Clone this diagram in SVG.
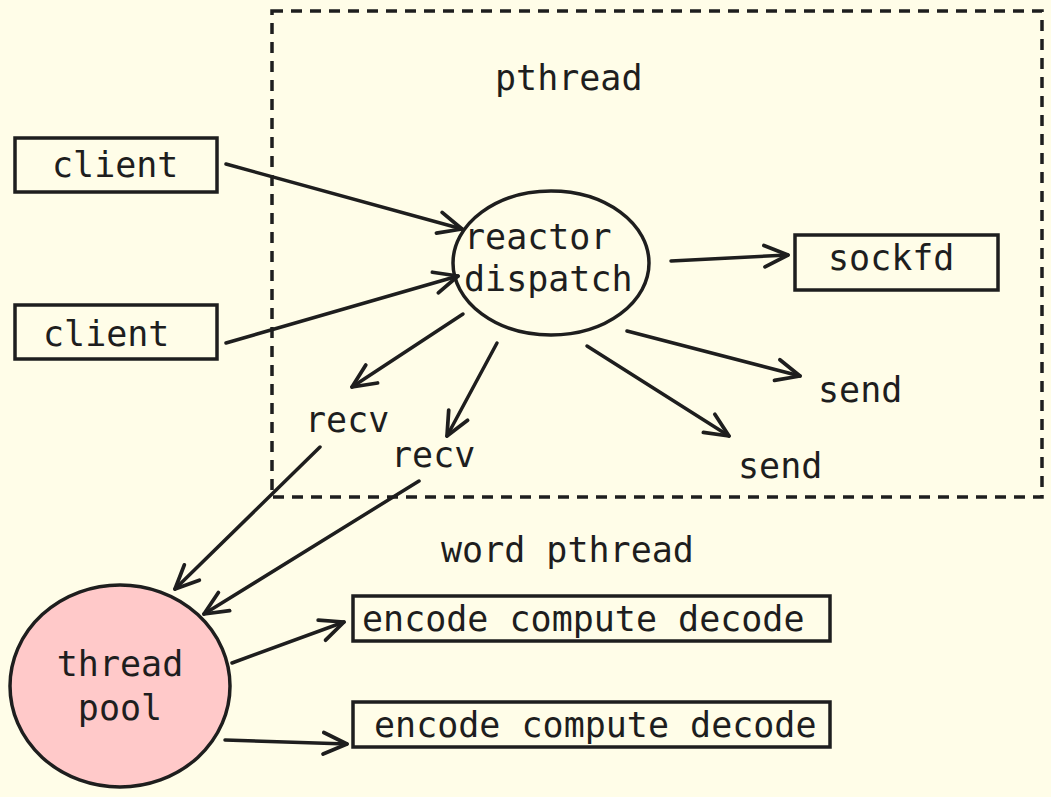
<svg xmlns="http://www.w3.org/2000/svg" width="1051" height="797" viewBox="0 0 1051 797">
<style>
.t{font-family:"DejaVu Sans Mono","Liberation Mono",monospace;font-size:35px;fill:#1e1e1e}
.s{fill:none;stroke:#1e1e1e;stroke-width:3.5}
.c{fill:none;stroke:#1e1e1e;stroke-width:3.5;stroke-linecap:round;marker-end:url(#a)}
</style>
<defs>
<marker id="a" markerUnits="userSpaceOnUse" markerWidth="30" markerHeight="30" viewBox="-24 -12 28 24" refX="0" refY="0" orient="auto">
<path d="M-22,-10 L0,0 L-22,10" fill="none" stroke="#1e1e1e" stroke-width="3.5" stroke-linecap="round" stroke-linejoin="round"/>
</marker>
</defs>
<rect width="1051" height="797" fill="#fffde8"/>
<g id="pthread-frame">
<rect x="272" y="11" width="770" height="486" class="s" stroke-dasharray="11 8"/>
<text x="495" y="90" class="t">pthread</text>
</g>
<g id="client1">
<rect x="15" y="138" width="202" height="54" class="s"/>
<text x="52" y="177" class="t">client</text>
</g>
<g id="client2">
<rect x="15" y="305" width="202" height="54" class="s"/>
<text x="43" y="346" class="t">client</text>
</g>
<g id="reactor">
<ellipse cx="551" cy="263" rx="98" ry="72" class="s"/>
<text x="464" y="249" class="t">reactor</text>
<text x="464" y="291" class="t">dispatch</text>
</g>
<g id="sockfd">
<rect x="795" y="235" width="203" height="55" class="s"/>
<text x="828" y="270" class="t">sockfd</text>
</g>
<g id="send1"><text x="818" y="402" class="t">send</text></g>
<g id="send2"><text x="738" y="478" class="t">send</text></g>
<g id="recv1"><text x="305" y="432" class="t">recv</text></g>
<g id="recv2"><text x="391" y="467" class="t">recv</text></g>
<g id="word-pthread"><text x="441" y="562" class="t">word pthread</text></g>
<g id="threadpool">
<ellipse cx="120" cy="686" rx="110" ry="101" fill="#ffc9c9" stroke="#1e1e1e" stroke-width="3.5"/>
<text x="120" y="676" class="t" text-anchor="middle">thread</text>
<text x="120" y="720" class="t" text-anchor="middle">pool</text>
</g>
<g id="encode1">
<rect x="353" y="596" width="477" height="45" class="s"/>
<text x="362" y="631" class="t">encode compute decode</text>
</g>
<g id="encode2">
<rect x="353" y="702" width="477" height="45" class="s"/>
<text x="374" y="737" class="t">encode compute decode</text>
</g>
<g id="connectors">
<path d="M226,164 L462,229" class="c"/>
<path d="M226,343 L458,276" class="c"/>
<path d="M671,261 L788,255" class="c"/>
<path d="M627,331 L800,376" class="c"/>
<path d="M587,346 L729,436" class="c"/>
<path d="M463,314 L352,387" class="c"/>
<path d="M497,343 L447,436" class="c"/>
<path d="M320,447 L175,589" class="c"/>
<path d="M419,481 L204,614" class="c"/>
<path d="M232,663 L344,622" class="c"/>
<path d="M225,740 L347,744" class="c"/>
</g>
</svg>
